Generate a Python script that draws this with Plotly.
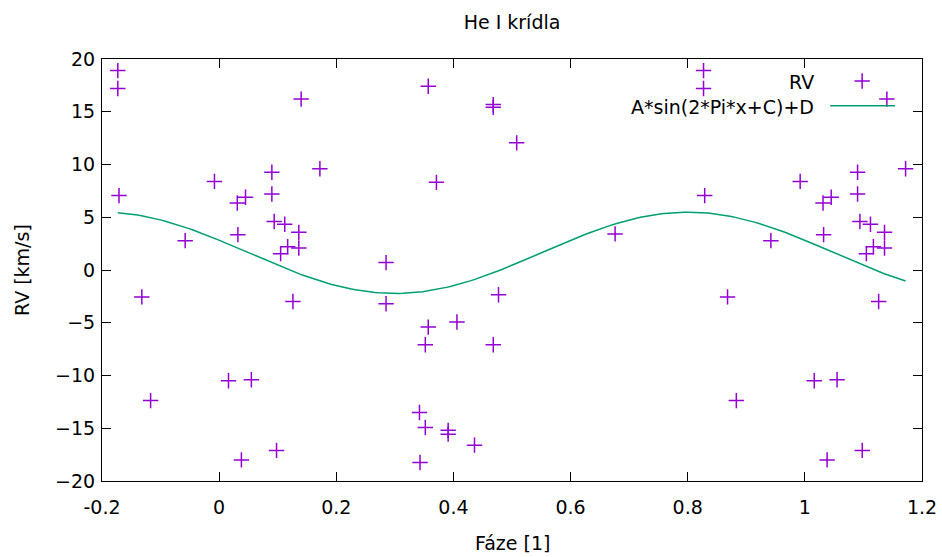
import numpy as np
import plotly.graph_objects as go

# Phase-folded radial velocities (phase in [0, 1))
phase = [0.016, 0.031, 0.032, 0.038, 0.045, 0.055, 0.090, 0.090, 0.094, 0.098,
         0.105, 0.112, 0.117, 0.126, 0.136, 0.136, 0.140, 0.172, 0.285, 0.285,
         0.342, 0.343, 0.352, 0.352, 0.357, 0.357, 0.371, 0.391, 0.391, 0.406,
         0.436, 0.468, 0.468, 0.468, 0.477, 0.508, 0.676, 0.827, 0.827, 0.829,
         0.868, 0.883, 0.942, 0.992]
rv = [-10.5, 6.35, 3.35, -18.0, 6.9, -10.4, 9.26, 7.2, 4.6, -17.1,
      1.55, 4.33, 2.2, -2.98, 3.57, 2.09, 16.2, 9.6, 0.7, -3.2,
      -13.5, -18.25, -7.09, -14.93, 17.42, -5.41, 8.31, -15.2, -15.56, -4.93,
      -16.6, 15.68, 15.43, -7.09, -2.34, 12.05, 3.42, 18.9, 17.2, 7.05,
      -2.55, -12.38, 2.78, 8.4]

# Fitted sine parameters: A*sin(2*Pi*x+C)+D
A = 3.85
C = -3.456
D = 1.63

x_ticks = [-0.2, 0, 0.2, 0.4, 0.6, 0.8, 1, 1.2]
x_tick_text = ["-0.2", "0", "0.2", "0.4", "0.6", "0.8", "1", "1.2"]
y_ticks = [-20, -15, -10, -5, 0, 5, 10, 15, 20]

# Repeat points near the phase edges so the plot spans -0.2 .. 1.2
px, py = [], []
for p, v in zip(phase, rv):
    px.append(p); py.append(v)
    if p >= 0.8:
        px.append(p - 1); py.append(v)
    if p < 0.2:
        px.append(p + 1); py.append(v)

xs = np.linspace(min(px), max(px), 200)
ys = A * np.sin(2 * np.pi * xs + C) + D

PURPLE = "#9400d3"
GREEN = "#009e73"
FONT = dict(family="DejaVu Sans", size=19, color="black")

fig = go.Figure()
fig.add_trace(go.Scatter(
    x=px, y=py, mode="markers", name="RV",
    marker=dict(symbol="cross-thin", size=11, line=dict(color=PURPLE, width=1.5)),
))
fig.add_trace(go.Scatter(
    x=xs, y=ys, mode="lines", name="A*sin(2*Pi*x+C)+D",
    line=dict(color=GREEN, width=1.5),
))

# Key samples drawn on a hidden unit overlay axis (symbol right of text)
fig.add_trace(go.Scatter(
    x=[0.927], y=[0.948], mode="markers", xaxis="x2", yaxis="y2",
    marker=dict(symbol="cross-thin", size=11, line=dict(color=PURPLE, width=1.5)),
    hoverinfo="skip",
))
fig.add_trace(go.Scatter(
    x=[0.888, 0.967], y=[0.889, 0.889], mode="lines", xaxis="x2", yaxis="y2",
    line=dict(color=GREEN, width=1.5), hoverinfo="skip",
))

axis_common = dict(
    showgrid=False, zeroline=False, showline=True, linecolor="black", linewidth=1,
    mirror="allticks", ticks="inside", ticklen=9, tickcolor="black", tickwidth=1,
    tickfont=FONT, automargin=False,
)
fig.update_layout(
    width=942, height=557, autosize=False,
    margin=dict(l=102, r=20, t=59, b=76, autoexpand=False),
    paper_bgcolor="white", plot_bgcolor="white",
    showlegend=False,
    font=FONT,
    title=dict(text="He I krídla", xref="paper", x=0.5, xanchor="center",
               yref="container", y=1 - 22 / 557, yanchor="middle", font=FONT),
    xaxis=dict(range=[-0.2, 1.2], tickvals=x_ticks, ticktext=x_tick_text,
               ticklabelstandoff=9, **axis_common),
    yaxis=dict(range=[-20, 20], tickvals=y_ticks, ticklabelstandoff=2, **axis_common),
    xaxis2=dict(range=[0, 1], overlaying="x", visible=False),
    yaxis2=dict(range=[0, 1], overlaying="y", visible=False),
    annotations=[
        dict(text="Fáze [1]", xref="paper", yref="paper", x=0.5, y=(481 - 543) / 422,
             xanchor="center", yanchor="middle", showarrow=False, font=FONT),
        dict(text="RV [km/s]", xref="paper", yref="paper", x=(22 - 102) / 820, y=0.5,
             xanchor="center", yanchor="middle", textangle=-90, showarrow=False,
             font=FONT),
        dict(text="RV", xref="paper", yref="paper", x=0.871, y=0.945,
             xanchor="right", yanchor="middle", showarrow=False, font=FONT),
        dict(text="A*sin(2*Pi*x+C)+D", xref="paper", yref="paper", x=0.871, y=0.887,
             xanchor="right", yanchor="middle", showarrow=False, font=FONT),
    ],
)

fig.write_html("out.html")
